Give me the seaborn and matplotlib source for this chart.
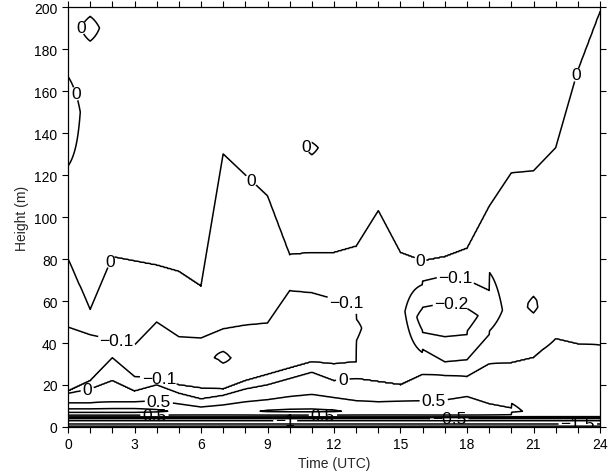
import numpy as np
import matplotlib
matplotlib.use("Agg")
import matplotlib.pyplot as plt
import seaborn as sns

nan = np.nan
hours = list(range(25))
# heights (m) at which each contour level crosses, read per hour
lo0   = [16, 18, 22, 17, 20, 16, 13.3, 15, 18, 20, 23, 26, 22, 23, 21.5, 20, 25, 24.5, 24, 30, 30.5, 33, 42, 39.5, 39]
lo_m1 = [17, 22, 33, 24, 23, 20, 18.5, 18, 22, 25, 28, 31, 30, 31, nan, nan, 37, 31, 32, 44, nan, nan, nan, nan, nan]
lo_m2 = [nan]*16 + [45, 43, 44] + [nan]*6
h_min = [32, 33, 37, 31.5, 36.5, 31.5, 30.5, 32.5, 35, 37, 46.5, 47.5, 45.5, 44.5, 55, 56, 51, 51, 51, 55, 56, 60, 62, 60, 60]
v_min = [-0.14]*13 + [-0.12, -0.04, -0.0625, -0.25, -0.26, -0.24, -0.16, -0.06, -0.05, -0.05, -0.05, -0.05]
up_m2 = [nan]*16 + [57, 59, 58] + [nan]*6
up_m1 = [47.6, 44, 41.5, 39, 50, 43, 42.4, 46.7, 48.5, 49.5, 65, 64, 61, 58, nan, nan, 69.5, 72, 70, 65, nan, nan, nan, nan, nan]
up0   = [80, 56, 81, 79, 77, 74, 67, 130, 120, 110, 82, 83, 83, 86, 103, 83, 79, 81, 85, 105, 121, 122, 133, 170, 198]
v_top = 0.05
# near-surface layer
v_peak = [1.2, 1.2, 1.2, 1.2, 1.1, 0.9, 0.85, 0.85, 0.9, 1.05, 1.08, 1.08, 1.05, 0.9, 0.85, 0.85, 0.9, 0.95, 0.95, 0.8, 0.6, 0.4, 0.35, 0.35, 0.35]
hi05  = [11.5, 11.5, 12, 12, 12.4, 11, 9.5, 10.5, 12, 13, 14.5, 15.5, 14, 12.5, 12, 12.3, 12.5, 12.8, 14.5, 11, 9, nan, nan, nan, nan]
surf_h = [0, 1.4, 3, 4, 4.8]
surf_v = [-2.2, -1.5, -1.0, -0.5, 0.0]
low05_h = 5.6
peak_h = 7.5
# isolated small cells: hour, height, amplitude, half-width
bump_hour = [0, 1, 7, 11, 21]
bump_height = [150, 190, 33, 133, 57]
bump_amp = [-0.07, -0.08, 0.06, -0.03, -0.07]
bump_width = [35, 14, 6, 10, 20]

levels = [-2, -1.5, -1, -0.5, -0.2, -0.1, 0, 0.5, 1]
label_spots = {
    0: [(0.15, 158), (1.9, 79), (8.3, 118), (10.8, 133), (15.9, 79),
        (22.8, 168), (0.6, 190), (0.9, 16), (12.4, 22)],
    -0.1: [(2.1, 38), (4.1, 23), (12.5, 58), (17.5, 72)],
    -0.2: [(17.3, 58)],
    0.5: [(4.1, 12.3), (16.5, 12.5), (3.9, 5.6), (11.5, 5.6)],
    -1: [(9.8, 3)],
    -1.5: [(23, 1.4)],
    -0.5: [(17.2, 4)],
}


def column_keys(i):
    k = {}
    for n, (h, v) in enumerate(zip(surf_h, surf_v)):
        k[f"s{n}"] = (h, v)
    if v_peak[i] > 0.5:
        k["low05"] = (low05_h, 0.5)
    k["peak"] = (peak_h, v_peak[i])
    if not np.isnan(hi05[i]):
        k["hi05"] = (hi05[i], 0.5)
    k["lo0"] = (lo0[i], 0.0)
    if not np.isnan(lo_m1[i]):
        k["lo_m1"] = (lo_m1[i], -0.1)
    if not np.isnan(lo_m2[i]):
        k["lo_m2"] = (lo_m2[i], -0.2)
    k["min"] = (h_min[i], v_min[i])
    if not np.isnan(up_m2[i]):
        k["up_m2"] = (up_m2[i], -0.2)
    if not np.isnan(up_m1[i]):
        k["up_m1"] = (up_m1[i], -0.1)
    k["up0"] = (up0[i], 0.0)
    k["top"] = (200.0, v_top)
    return k


order = ["s0", "s1", "s2", "s3", "s4", "low05", "peak", "hi05", "lo0", "lo_m1", "lo_m2",
         "min", "up_m2", "up_m1", "up0", "top"]
cols = [column_keys(i) for i in hours]

heights = np.arange(0, 200.01, 0.5)
xs = np.round(np.linspace(0, 24, 1201), 6)
Z = np.zeros((len(heights), len(xs)))
for j, x in enumerate(xs):
    i = min(int(np.floor(x)), 23)
    t = x - i
    if abs(t) < 1e-9 or abs(t - 1) < 1e-9:
        ka = cols[int(round(x))]
        pts = [ka[n] for n in order if n in ka]
    else:
        ka, kb = cols[i], cols[i + 1]
        pts = []
        for n in order:
            if n in ka and n in kb:
                pts.append((ka[n][0] * (1 - t) + kb[n][0] * t,
                            ka[n][1] * (1 - t) + kb[n][1] * t))
    hs, vs = zip(*pts)
    Z[:, j] = np.interp(heights, hs, vs)
for bh, bz, ba, bw in zip(bump_hour, bump_height, bump_amp, bump_width):
    wx = np.clip(1 - np.abs(xs - bh), 0, None)
    wz = np.clip(1 - np.abs(heights - bz) / bw, 0, None)
    Z += ba * np.outer(wz, wx)

sns.set_style("ticks")
plt.rcParams['font.family'] = ['Liberation Sans', 'DejaVu Sans']

fig = plt.figure(figsize=(6.1, 4.77), dpi=100)
ax = fig.add_axes([68/610, 49/477, 532/610, 420/477])

fmt = lambda v: f"{v:g}".replace("-", "\u2212")
for lv in levels:
    cs = ax.contour(xs, heights, Z, levels=[lv], colors='black', linewidths=1.1,
                    linestyles='solid')
    if lv in label_spots:
        texts = ax.clabel(cs, manual=label_spots[lv], fmt=fmt, fontsize=12.5,
                          inline=True, inline_spacing=2)
        for tx in texts:
            tx.set_rotation(0)

ax.set_xlim(0, 24)
ax.set_ylim(0, 200)
ax.set_xticks(range(0, 25, 3))
ax.set_xticks(range(0, 25), minor=True)
ax.set_yticks(range(0, 201, 20))
ax.tick_params(axis='both', which='both', direction='out', length=4, width=0.8,
               top=True, right=True, labelsize=10, colors='black')
for s in ax.spines.values():
    s.set_color('black')
    s.set_linewidth(0.9)
ax.set_xlabel("Time (UTC)", fontsize=10, labelpad=3)
ax.set_ylabel("Height (m)", fontsize=10, labelpad=4)
fig.savefig("out.png", dpi=100, facecolor='white')
